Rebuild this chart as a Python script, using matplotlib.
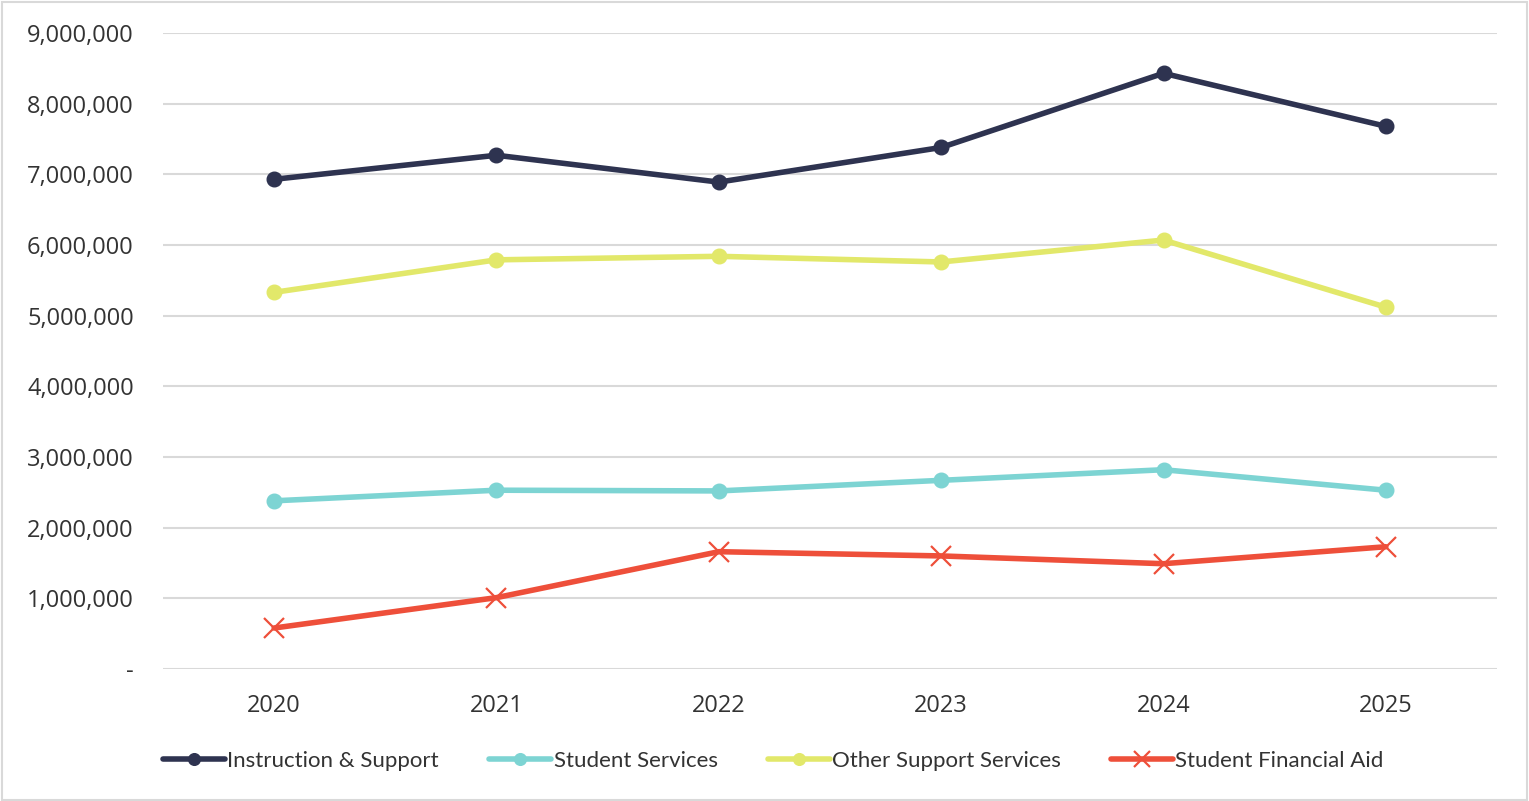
import matplotlib.pyplot as plt
from matplotlib.ticker import FuncFormatter

years = ["2020", "2021", "2022", "2023", "2024", "2025"]
instruction = [6930000, 7270000, 6890000, 7380000, 8430000, 7680000]
student_services = [2380000, 2530000, 2520000, 2670000, 2820000, 2530000]
other_support = [5330000, 5790000, 5840000, 5760000, 6070000, 5120000]
financial_aid = [580000, 1010000, 1660000, 1600000, 1490000, 1730000]

series = [
    ("Instruction & Support", instruction, "#2E3350", "o"),
    ("Student Services", student_services, "#7DD4D3", "o"),
    ("Other Support Services", other_support, "#E2E86A", "o"),
    ("Student Financial Aid", financial_aid, "#EE4F3A", "x"),
]

fig = plt.figure(figsize=(15.29, 8.01), dpi=100)
fig.patches.append(plt.Rectangle((0.001, 0.001), 0.998, 0.997, transform=fig.transFigure,
                                 fill=False, edgecolor="#D9D9D9", linewidth=1.5))
ax = fig.add_axes([163 / 1529, 1 - 669 / 801, (1497 - 163) / 1529, (669 - 33) / 801])

x = list(range(len(years)))
for label, vals, color, marker in series:
    if marker == "x":
        ax.plot(x, vals, color=color, linewidth=4, marker="x", markersize=14,
                markeredgewidth=1.6, label=label, solid_capstyle="round")
    else:
        ax.plot(x, vals, color=color, linewidth=4, marker="o", markersize=10.5,
                label=label, solid_capstyle="round")

ax.set_xlim(-0.5, 5.5)
ax.set_ylim(0, 9000000)
ax.set_yticks(range(0, 9000001, 1000000))
ax.yaxis.set_major_formatter(FuncFormatter(lambda v, p: "-" if v == 0 else f"{int(v):,}"))
ax.set_xticks(x)
ax.set_xticklabels(years)
ax.grid(axis="y", color="#D9D9D9", linewidth=1.5)
ax.set_axisbelow(True)
for s in ax.spines.values():
    s.set_visible(False)
ax.tick_params(length=0, labelsize=17, labelcolor="#333333")
ax.tick_params(axis="y", pad=21)
ax.tick_params(axis="x", pad=18)
for t in ax.get_xticklabels() + ax.get_yticklabels():
    t.set_fontfamily("Open Sans")

leg = fig.legend(loc="center left", bbox_to_anchor=(143 / 1529, 1 - 761 / 801), ncol=4,
                 frameon=False, prop={"family": "Lato", "size": 16}, handlelength=2.8,
                 handletextpad=0.1, columnspacing=2.25, labelcolor="#333333",
                 markerscale=0.8)

plt.savefig("out.png", dpi=100)
